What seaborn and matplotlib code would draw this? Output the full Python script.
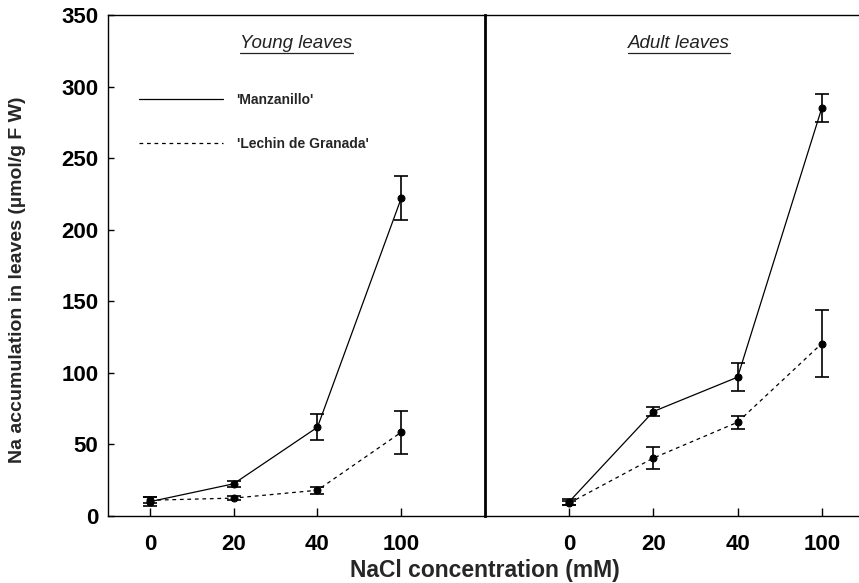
import numpy as np
import pandas as pd
import seaborn as sns
import matplotlib.pyplot as plt
from matplotlib.lines import Line2D

# NaCl doses (categorical x positions)
doses = ["0", "20", "40", "100"]
cultivars = ["'Manzanillo'", "'Lechin de Granada'"]

# Young leaves
young_manz = [10, 22.5, 62, 222]
young_manz_err = [3, 2, 9, 15.5]
young_lech = [11, 12.5, 18, 58.5]
young_lech_err = [2, 1.5, 2.5, 15]

# Adult leaves
adult_manz = [10, 73, 97, 285]
adult_manz_err = [2, 3, 10, 10]
adult_lech = [9, 40.5, 65.5, 120.5]
adult_lech_err = [1.5, 8, 4.5, 23.5]

sns.set_style("ticks")
plt.rcParams['font.family'] = ['Liberation Sans', 'DejaVu Sans']

fig = plt.figure(figsize=(8.59, 5.83), dpi=100)
ax1 = fig.add_axes([108 / 859, 67 / 583, 377 / 859, 501 / 583])
ax2 = fig.add_axes([485 / 859, 67 / 583, 373 / 859, 501 / 583], sharey=ax1)
ax2.patch.set_visible(False)

panels = [
    (ax1, "Young leaves", 0.5, young_manz, young_manz_err, young_lech, young_lech_err, (-0.5, 4.0)),
    (ax2, "Adult leaves", 0.52, adult_manz, adult_manz_err, adult_lech, adult_lech_err, (-1.0, 3.43)),
]

titles = []
for ax, title, tx, m, me, l, le, xlim in panels:
    df = pd.DataFrame({
        "pos": list(range(len(doses))) * 2,
        "value": m + l,
        "err": me + le,
        "cultivar": [cultivars[0]] * len(doses) + [cultivars[1]] * len(doses),
    })
    sns.lineplot(data=df, x="pos", y="value", style="cultivar",
                 style_order=cultivars, dashes=[(None, None), (3, 3)],
                 markers=["o", "o"], markersize=5, color="black",
                 markeredgecolor="black", linewidth=0.9, ax=ax, legend=False)
    for name in cultivars:
        sub = df[df["cultivar"] == name]
        ax.errorbar(sub["pos"], sub["value"], yerr=sub["err"], fmt="none",
                    ecolor="black", elinewidth=1.2, capsize=5, capthick=1.2)
    ax.set_xlim(*xlim)
    ax.set_ylim(0, 350)
    ax.set_xticks(range(len(doses)))
    ax.set_xticklabels(doses, fontsize=16, fontweight="bold")
    ax.set_xlabel("")
    ax.set_ylabel("")
    ax.tick_params(axis="x", direction="in", length=6, width=1, pad=13, colors="black")
    titles.append(ax.text(tx, 0.935, title, transform=ax.transAxes, ha="center",
                          va="baseline", fontsize=13.5, style="italic", color="#222222"))

ax1.set_yticks(np.arange(0, 351, 50))
ax1.set_yticklabels([str(v) for v in range(0, 351, 50)], fontsize=16, fontweight="bold")
ax1.tick_params(axis="y", direction="in", length=4, width=1, pad=7, colors="black")
ax2.tick_params(axis="y", left=False, labelleft=False)

for s in ax1.spines.values():
    s.set_linewidth(1.0)
    s.set_color("black")
ax1.spines["right"].set_linewidth(2.0)
ax2.spines["left"].set_visible(False)
ax2.spines["right"].set_visible(False)
for side in ("top", "bottom"):
    ax2.spines[side].set_linewidth(1.0)
    ax2.spines[side].set_color("black")

# legend inside the young-leaves panel
handles = [Line2D([], [], color="black", linewidth=0.9, linestyle="-"),
           Line2D([], [], color="black", linewidth=0.9, linestyle=(0, (3, 3)))]
ax1.legend(handles, cultivars, loc="upper left", bbox_to_anchor=(0.05, 0.87),
           frameon=False, handlelength=6.0, handletextpad=1.0, labelspacing=2.2,
           prop={"weight": "bold", "size": 10})

fig.text(485 / 859, 1 - 570 / 583, "NaCl concentration (mM)", ha="center", va="center",
         fontsize=16.5, fontweight="bold")
fig.text(18 / 859, 1 - 280 / 583, "Na accumulation in leaves (\u00b5mol/g F W)", ha="center",
         va="center", rotation=90, fontsize=14, fontweight="bold")

# underline the panel titles
fig.canvas.draw()
renderer = fig.canvas.get_renderer()
inv = fig.transFigure.inverted()
for t in titles:
    bb = t.get_window_extent(renderer)
    (x0, y0), (x1, _) = inv.transform([(bb.x0, bb.y0), (bb.x1, bb.y0)])
    fig.add_artist(Line2D([x0, x1], [y0 - 1 / 583, y0 - 1 / 583], color="#222222",
                          linewidth=0.9, transform=fig.transFigure))

fig.savefig("out.png", dpi=100)
